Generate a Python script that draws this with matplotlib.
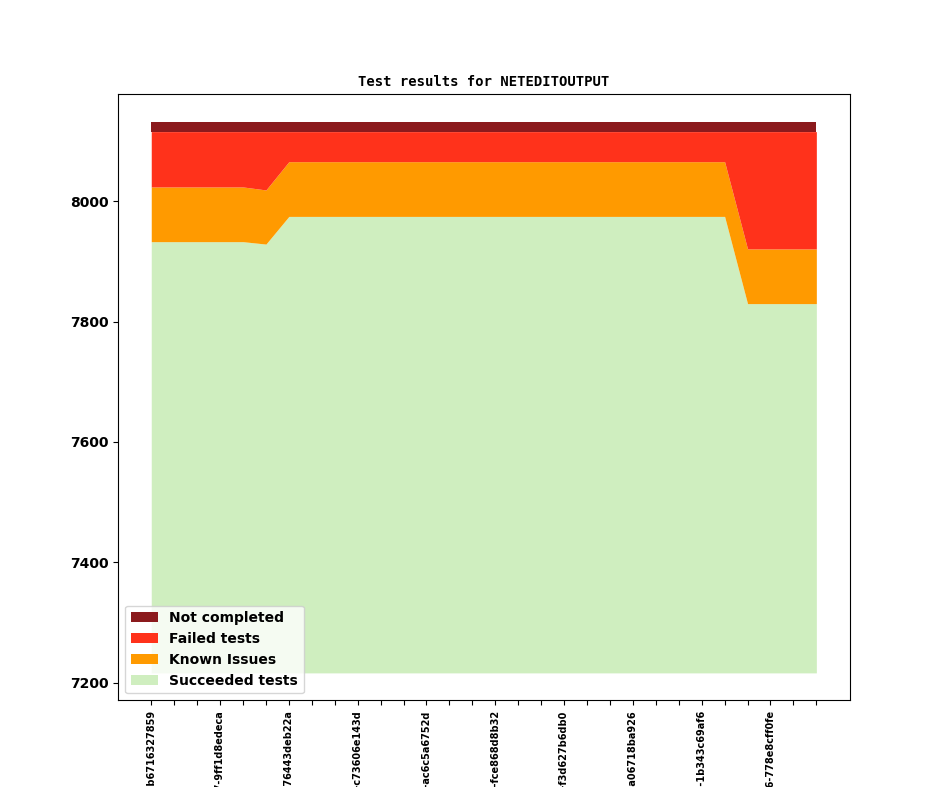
import matplotlib

matplotlib.use("Agg")
import matplotlib.pyplot as plt
import numpy as np

# commit labels, one per build (every third one shown on the axis)
builds = [
    "v1_20_0+0812-b6716327859", "", "",
    "v1_20_0+0817-9ff1d8edeca", "", "",
    "v1_20_0+0823-76443deb22a", "", "",
    "v1_20_0+0831-c73606e143d", "", "",
    "v1_20_0+0840-ac6c5a6752d", "", "",
    "v1_20_0+0848-fce868d8b32", "", "",
    "v1_20_0+0855-f3d627b6db0", "", "",
    "v1_20_0+0862-a06718ba926", "", "",
    "v1_20_0+0870-1b343c69af6", "", "",
    "v1_20_0+0876-778e8cff0fe", "", "",
]

succeeded = [7933] * 5 + [7929] + [7975] * 20 + [7830] * 4
known = [91] * 5 + [90] + [91] * 20 + [91] * 4
failed = [92] * 5 + [97] + [50] * 20 + [195] * 4
not_completed = [16] * 30
baseline = 7216

colors = {
    "Not completed": "#8b1a1d",
    "Failed tests": "#ff321b",
    "Known Issues": "#ff9a00",
    "Succeeded tests": "#cfeebf",
}

plt.rcParams["font.weight"] = "bold"

x = np.arange(len(builds))
lvl0 = np.full(len(x), baseline, dtype=float)
lvl1 = np.asarray(succeeded, dtype=float)
lvl2 = lvl1 + np.asarray(known)
lvl3 = lvl2 + np.asarray(failed)
lvl4 = lvl3 + np.asarray(not_completed)

fig, ax = plt.subplots(figsize=(9.44, 7.87), dpi=100)
h_ok = ax.fill_between(x, lvl0, lvl1, color=colors["Succeeded tests"], linewidth=0, label="Succeeded tests")
h_kn = ax.fill_between(x, lvl1, lvl2, color=colors["Known Issues"], linewidth=0, label="Known Issues")
h_fa = ax.fill_between(x, lvl2, lvl3, color=colors["Failed tests"], linewidth=0, label="Failed tests")
h_nc = ax.fill_between(x, lvl3, lvl4, color=colors["Not completed"], linewidth=0, label="Not completed")

ax.set_xticks(x)
ax.set_xticklabels(builds, rotation=90, fontsize=7, fontweight="bold")
ax.set_yticks([7200, 7400, 7600, 7800, 8000])
for lab in ax.get_yticklabels():
    lab.set_fontweight("bold")
ax.set_title("Test results for NETEDITOUTPUT", fontsize=10, fontweight="bold", family="DejaVu Sans Mono")
ax.legend(handles=[h_nc, h_fa, h_kn, h_ok], loc="lower left", prop={"weight": "bold", "size": 10})

fig.savefig("out.png", dpi=100)
plt.close(fig)
